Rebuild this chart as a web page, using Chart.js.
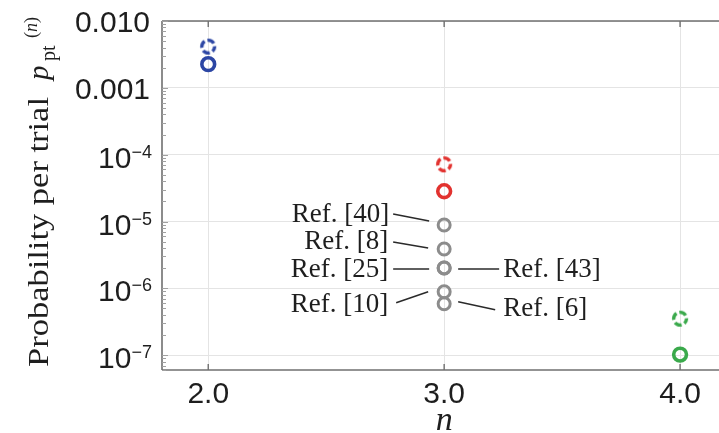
<!DOCTYPE html>
<html><head><meta charset="utf-8">
<script src="https://cdn.jsdelivr.net/npm/chart.js@4.4.0/dist/chart.umd.min.js"></script>
<style>html,body{margin:0;padding:0;background:#fff;overflow:hidden}#wrap{width:719px;height:433px;position:relative}</style>
</head><body><div id="wrap"><canvas id="c"></canvas></div>
<script>
// ---- data ----
const nCategories = [2.0, 3.0, 4.0];
const upperEstimate = [4.14e-3, 7.16e-5, 3.52e-7];   // dashed circles
const lowerEstimate = [2.26e-3, 2.84e-5, 1.02e-7];   // solid circles
const refN = [3.0, 3.0, 3.0, 3.0, 3.0, 3.0];
const refValues = [8.85e-6, 3.88e-6, 2.02e-6, 2.02e-6, 8.89e-7, 5.89e-7];
const refLabels = ['Ref. [40]', 'Ref. [8]', 'Ref. [25]', 'Ref. [43]', 'Ref. [10]', 'Ref. [6]'];
const xTickValues = [2.0, 3.0, 4.0];
const xTickLabels = ['2.0', '3.0', '4.0'];
const yTickValues = [1e-2, 1e-3, 1e-4, 1e-5, 1e-6, 1e-7];
const yTickBase = ['0.010', '0.001', '10', '10', '10', '10'];
const yTickExp = ['', '', '\u22124', '\u22125', '\u22126', '\u22127'];
const yTitle = 'Probability per trial';
const xTitle = 'n';

// ---- styles / layout ----
const seriesColors = ['#2c46a4', '#e2322f', '#3aa94b'];
const refColor = '#8c8c8c';
const axisColor = '#707070';
const gridColor = '#e4e4e4';
const SERIF = '"Liberation Serif", "DejaVu Serif", serif';
const SANS = '"Liberation Sans", Arial, sans-serif';
// annotation layout (pixel offsets relative to the referenced point)
const refAnnot = [
  {side: 'L', line: [-51, -11, -15, -4], tx: -55, ty: -3},
  {side: 'L', line: [-51, -7, -16, -1], tx: -56, ty: 0},
  {side: 'L', line: [-51, 1, -15, 1], tx: -56, ty: 9},
  {side: 'R', line: [14, 1, 55, 1], tx: 59, ty: 9},
  {side: 'L', line: [-48, 11, -16, 0], tx: -56, ty: 20},
  {side: 'R', line: [14, -2, 51, 6], tx: 59, ty: 12}
];

function dashedRing(color) {
  const c = document.createElement('canvas');
  c.width = 22; c.height = 22;
  const g = c.getContext('2d');
  g.strokeStyle = color; g.lineWidth = 3.4;
  g.setLineDash([7.2, 3.0]);
  g.lineDashOffset = 2;
  g.beginPath(); g.arc(11, 11, 6.4, 0, Math.PI * 2); g.stroke();
  return c;
}
const dashedStyles = seriesColors.map(dashedRing);

const decor = {
  id: 'decor',
  afterDraw(chart) {
    const ctx = chart.ctx, a = chart.chartArea;
    const xs = chart.scales.x, ys = chart.scales.y;
    ctx.save();
    // axes
    ctx.strokeStyle = axisColor; ctx.lineWidth = 1.6;
    ctx.beginPath();
    ctx.moveTo(a.left, a.top); ctx.lineTo(a.right, a.top);
    ctx.moveTo(a.left, a.top); ctx.lineTo(a.left, a.bottom);
    ctx.moveTo(a.left, a.bottom); ctx.lineTo(a.right, a.bottom);
    ctx.stroke();
    // x ticks (inward)
    ctx.lineWidth = 1.4;
    xTickValues.forEach(v => {
      const px = xs.getPixelForValue(v);
      ctx.beginPath();
      ctx.moveTo(px, a.bottom); ctx.lineTo(px, a.bottom - 6);
      ctx.moveTo(px, a.top); ctx.lineTo(px, a.top + 6);
      ctx.stroke();
    });
    // y minor ticks
    ctx.strokeStyle = '#a0a0a0'; ctx.lineWidth = 1;
    for (let e = -8; e <= -2; e++) {
      for (let m = 1; m <= 9; m++) {
        const v = m * Math.pow(10, e);
        if (v < ys.min || v > ys.max) continue;
        const py = Math.round(ys.getPixelForValue(v)) + 0.5;
        ctx.beginPath(); ctx.moveTo(a.left, py); ctx.lineTo(a.left + (m === 1 ? 6 : 4), py); ctx.stroke();
      }
    }
    // x tick labels
    ctx.fillStyle = '#1e1e1e';
    ctx.font = '30px ' + SANS;
    ctx.textAlign = 'center'; ctx.textBaseline = 'alphabetic';
    xTickValues.forEach((v, i) => ctx.fillText(xTickLabels[i], xs.getPixelForValue(v), 403));
    // y tick labels
    const rightX = 152;
    yTickValues.forEach((v, i) => {
      const py = ys.getPixelForValue(v);
      ctx.textAlign = 'right';
      if (!yTickExp[i]) {
        ctx.font = '30px ' + SANS;
        ctx.fillText(yTickBase[i], rightX - 2, py + 11);
      } else {
        ctx.font = '18px ' + SANS;
        const w = ctx.measureText(yTickExp[i]).width;
        ctx.fillText(yTickExp[i], rightX, py + 3);
        ctx.font = '30px ' + SANS;
        ctx.fillText(yTickBase[i], rightX - w, py + 13);
      }
    });
    // x title
    ctx.font = 'italic 34px ' + SERIF;
    ctx.textAlign = 'center';
    ctx.fillText(xTitle, xs.getPixelForValue(3.0), 430);
    // y title (rotated)
    ctx.save();
    ctx.translate(48, 367);
    ctx.rotate(-Math.PI / 2);
    ctx.textAlign = 'left';
    ctx.font = '29px ' + SERIF;
    const mw = ctx.measureText(yTitle).width;
    ctx.save(); ctx.scale(270 / mw, 1); ctx.fillText(yTitle, 0, 0); ctx.restore();
    ctx.font = 'italic 29px ' + SERIF;
    ctx.fillText('p', 287, 0);
    ctx.font = '20px ' + SERIF;
    ctx.fillText('pt', 306, 7);
    ctx.font = '18px ' + SERIF;
    ctx.fillText('(', 329, -11);
    let ox = 329 + ctx.measureText('(').width;
    ctx.font = 'italic 18px ' + SERIF;
    ctx.fillText('n', ox, -11);
    ox += ctx.measureText('n').width;
    ctx.font = '18px ' + SERIF;
    ctx.fillText(')', ox, -11);
    ctx.restore();
    // reference annotations
    ctx.fillStyle = '#1e1e1e';
    ctx.strokeStyle = '#2a2a2a'; ctx.lineWidth = 1.5;
    ctx.font = '27px ' + SERIF;
    refValues.forEach((v, i) => {
      const px = xs.getPixelForValue(refN[i]);
      const py = ys.getPixelForValue(v);
      const an = refAnnot[i];
      ctx.beginPath();
      ctx.moveTo(px + an.line[0], py + an.line[1]);
      ctx.lineTo(px + an.line[2], py + an.line[3]);
      ctx.stroke();
      ctx.textAlign = an.side === 'L' ? 'right' : 'left';
      ctx.fillText(refLabels[i], px + an.tx, py + an.ty);
    });
    ctx.restore();
  }
};

new Chart(document.getElementById('c'), {
  type: 'scatter',
  data: {
    datasets: [
      {
        label: 'upper',
        data: nCategories.map((n, i) => ({x: n, y: upperEstimate[i]})),
        pointStyle: ctx => dashedStyles[ctx.dataIndex],
        pointRadius: 7
      },
      {
        label: 'lower',
        data: nCategories.map((n, i) => ({x: n, y: lowerEstimate[i]})),
        pointStyle: 'circle',
        pointRadius: 6.4,
        borderWidth: 3.6,
        pointBorderColor: ctx => seriesColors[ctx.dataIndex],
        pointBackgroundColor: 'rgba(0,0,0,0)'
      },
      {
        label: 'refs',
        data: refN.map((n, i) => ({x: n, y: refValues[i]})),
        pointStyle: 'circle',
        pointRadius: 6,
        borderWidth: 3,
        pointBorderColor: refColor,
        pointBackgroundColor: 'rgba(0,0,0,0)'
      }
    ]
  },
  options: {
    responsive: true,
    maintainAspectRatio: false,
    animation: false,
    devicePixelRatio: 1,
    layout: {autoPadding: false, padding: {top: 21, right: 0, left: 0, bottom: 0}},
    plugins: {legend: {display: false}, tooltip: {enabled: false}},
    elements: {point: {hoverRadius: 6}},
    scales: {
      x: {
        type: 'linear', min: 1.804, max: 4.165,
        afterBuildTicks: s => { s.ticks = xTickValues.map(v => ({value: v})); },
        afterFit: s => { s.height = 63; },
        ticks: {display: false},
        grid: {color: gridColor, lineWidth: 1, drawTicks: false},
        border: {display: false}
      },
      y: {
        type: 'logarithmic', min: 6.34e-8, max: 1e-2,
        afterBuildTicks: s => { s.ticks = yTickValues.map(v => ({value: v})); },
        afterFit: s => { s.width = 162; },
        ticks: {display: false},
        grid: {color: gridColor, lineWidth: 1, drawTicks: false},
        border: {display: false}
      }
    }
  },
  plugins: [decor]
});
</script>
</body></html>
